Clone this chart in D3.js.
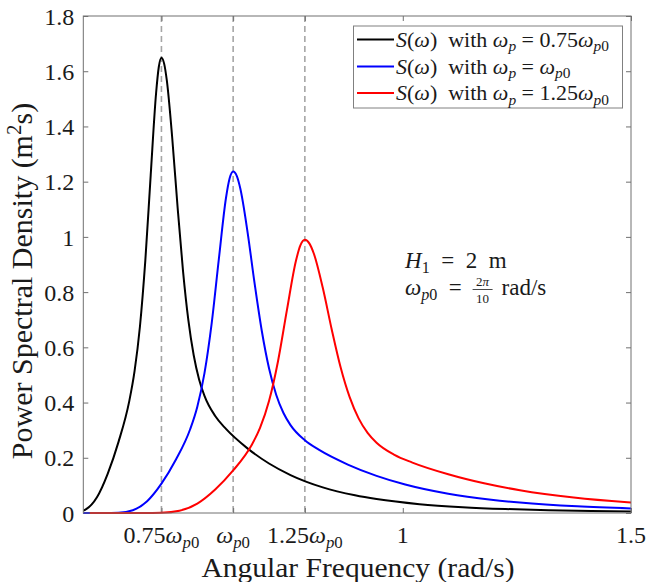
<!DOCTYPE html>
<html>
<head>
<meta charset="utf-8">
<script src="https://cdn.jsdelivr.net/npm/d3@7"></script>
<style>
  body { margin: 0; background: #fff; }
  svg text { font-family: "Liberation Serif", serif; fill: #1a1a1a; white-space: pre; }
</style>
</head>
<body>
<script>
// spectrum, omega in rad/s, S in m^2 s
var blackW = [0.2827, 0.3063, 0.3299, 0.3534, 0.3770, 0.4006, 0.4123, 0.4241, 0.4359, 0.4477, 0.4595, 0.4654, 0.4712,
  0.4771, 0.4830, 0.4948, 0.5066, 0.5184, 0.5301, 0.5419, 0.5537, 0.5655, 0.5890, 0.6126, 0.6597, 0.7069, 0.7540,
  0.8247, 0.8954, 0.9425, 1.0367, 1.1310, 1.2252, 1.3195, 1.4137, 1.5080];
var blackS = [0.0014, 0.0137, 0.0569, 0.1418, 0.2568, 0.4043, 0.5136, 0.6755, 0.9148, 1.2247, 1.5211, 1.6152, 1.6487,
  1.6275, 1.5665, 1.3592, 1.1075, 0.8779, 0.6990, 0.5713, 0.4838, 0.4244, 0.3512, 0.3045, 0.2341, 0.1793, 0.1375,
  0.0929, 0.0641, 0.0505, 0.0320, 0.0211, 0.0143, 0.0099, 0.0071, 0.0051];

var blueW = [0.2513, 0.3142, 0.3456, 0.3770, 0.4084, 0.4398, 0.4712, 0.5027, 0.5341, 0.5498, 0.5655, 0.5812, 0.5969,
  0.6126, 0.6205, 0.6283, 0.6362, 0.6440, 0.6597, 0.6754, 0.6912, 0.7069, 0.7226, 0.7383, 0.7540, 0.7854, 0.8168,
  0.8796, 0.9425, 1.0053, 1.0996, 1.1938, 1.2566, 1.3823, 1.5080];
var blueS = [0, 0, 0, 0.0011, 0.0102, 0.0427, 0.1063, 0.1926, 0.3032, 0.3852, 0.5066, 0.6861, 0.9185,
  1.1408, 1.2113, 1.2365, 1.2206, 1.1749, 1.0194, 0.8306, 0.6584, 0.5243, 0.4284, 0.3629, 0.3183, 0.2634, 0.2284,
  0.1755, 0.1345, 0.1031, 0.0697, 0.0481, 0.0379, 0.0240, 0.0158];

var redW = [0.3142, 0.3927, 0.4320, 0.4712, 0.5105, 0.5498, 0.5890, 0.6283, 0.6676, 0.6872, 0.7069, 0.7265, 0.7461,
  0.7658, 0.7756, 0.7854, 0.7952, 0.8050, 0.8247, 0.8443, 0.8639, 0.8836, 0.9032, 0.9229, 0.9425, 0.9817, 1.0210,
  1.0996, 1.1781, 1.2566, 1.3744, 1.4923, 1.5708];
var redS = [0, 0, 0, 0.0009, 0.0082, 0.0341, 0.0851, 0.1541, 0.2426, 0.3081, 0.4053, 0.5489, 0.7348,
  0.9127, 0.9691, 0.9892, 0.9765, 0.9399, 0.8155, 0.6645, 0.5267, 0.4194, 0.3428, 0.2903, 0.2547, 0.2107, 0.1827,
  0.1404, 0.1076, 0.0825, 0.0558, 0.0385, 0.0303];

var peakW = [0.4712, 0.6283, 0.7854];          // dashed lines: 0.75, 1, 1.25 x wp0
var xTickVals = [0.4712, 0.6283, 0.7854, 1, 1.5];
var xTickText = ["0.75", "", "1.25", "1", "1.5"];
var yTickVals = [0, 0.2, 0.4, 0.6, 0.8, 1, 1.2, 1.4, 1.6, 1.8];
var legendText = ["0.75", "", "1.25"];
var colors = ["#000000", "#0000ff", "#ff0000"];

var W = 647, H = 582;
var FONT = "Liberation Serif";
var svg = d3.select("body").append("svg").attr("width", W).attr("height", H)
  .attr("font-family", FONT);

var x = d3.scaleLinear().domain([0.3, 1.5]).range([83.3, 631]);
var y = d3.scaleLinear().domain([0, 1.8]).range([513, 16]);

// text with italic / subscript pieces
function mathText(sel, parts, size) {
  var cur = 0;
  sel.attr("font-family", FONT);
  parts.forEach(function(p) {
    var s = p[0], st = p[1];
    var lvl = (st == "si" || st == "sr") ? size * 0.22 : (st == "up" ? -size * 0.38 : 0);
    var t = sel.append("tspan").text(s).attr("dy", lvl - cur);
    cur = lvl;
    if (st == "i" || st == "si") t.attr("font-style", "italic");
    if (st != "i" && st != "r") t.attr("font-size", size * 0.7);
  });
  if (cur != 0) sel.append("tspan").text("").attr("dy", -cur);
  return sel;
}
function wp0(pre) {
  var p = [];
  if (pre) p.push([pre, "r"]);
  p.push(["ω", "i"], ["p", "si"], ["0", "sr"]);
  return p;
}

svg.append("defs").append("clipPath").attr("id", "plot")
  .append("rect").attr("x", 83.3).attr("y", 10).attr("width", 631 - 83.3).attr("height", 506);

// dashed peak markers
svg.append("g").selectAll("line").data(peakW).enter().append("line")
  .attr("x1", function(d) { return x(d); }).attr("x2", function(d) { return x(d); })
  .attr("y1", y(1.8)).attr("y2", y(0))
  .attr("stroke", "#a6a6a6").attr("stroke-width", 1.6).attr("stroke-dasharray", "6,4");

// axes (ticks inward on all four sides)
function styleAxis(g) {
  g.attr("font-family", FONT).attr("font-size", 24);
  g.select(".domain").remove();
  g.selectAll(".tick line").attr("stroke", "#707070");
  g.selectAll(".tick text").attr("fill", "#1a1a1a");
}
svg.append("g").attr("transform", "translate(83.3,0)")
  .call(d3.axisLeft(y).tickValues(yTickVals).tickSizeInner(-5).tickSizeOuter(0).tickPadding(9).tickFormat(d3.format("")))
  .call(styleAxis)
  .selectAll(".tick text").attr("dy", "0.34em");
svg.append("g").attr("transform", "translate(631,0)")
  .call(d3.axisRight(y).tickValues(yTickVals).tickSizeInner(-5).tickSizeOuter(0).tickFormat(""))
  .call(styleAxis);
svg.append("g").attr("transform", "translate(0,513)")
  .call(d3.axisBottom(x).tickValues(xTickVals).tickSizeInner(-5).tickSizeOuter(0).tickFormat(""))
  .call(styleAxis);
svg.append("g").attr("transform", "translate(0,16)")
  .call(d3.axisTop(x).tickValues(xTickVals).tickSizeInner(-5).tickSizeOuter(0).tickFormat(""))
  .call(styleAxis);

// x tick labels
xTickVals.forEach(function(v, i) {
  var t = svg.append("text").attr("x", x(v)).attr("y", 543).attr("text-anchor", "middle")
    .attr("font-family", FONT).attr("font-size", 24);
  if (i < 3) mathText(t, wp0(xTickText[i]), 24);
  else t.text(xTickText[i]);
});

// curves
var line = d3.line().x(function(d) { return x(d[0]); }).y(function(d) { return y(d[1]); }).curve(d3.curveMonotoneX);
var series = [d3.zip(blackW, blackS), d3.zip(blueW, blueS), d3.zip(redW, redS)];
svg.append("g").attr("clip-path", "url(#plot)").selectAll("path").data(series).enter().append("path")
  .attr("d", line).attr("fill", "none")
  .attr("stroke", function(d, i) { return colors[i]; }).attr("stroke-width", 2);

// frame
svg.append("rect").attr("x", 83.3).attr("y", 16).attr("width", 631 - 83.3).attr("height", 513 - 16)
  .attr("fill", "none").attr("stroke", "#707070").attr("stroke-width", 1);

// axis titles
svg.append("text").attr("x", 358).attr("y", 577).attr("text-anchor", "middle")
  .attr("font-family", FONT).attr("font-size", 27)
  .attr("textLength", 313).attr("lengthAdjust", "spacingAndGlyphs")
  .text("Angular Frequency (rad/s)");
var yl = svg.append("text").attr("transform", "translate(32,281) rotate(-90)").attr("text-anchor", "middle").attr("font-size", 30);
mathText(yl, [["Power Spectral Density (m", "r"], ["2", "up"], ["s)", "r"]], 30);

// legend
var lg = svg.append("g");
lg.append("rect").attr("x", 353.5).attr("y", 26).attr("width", 269).attr("height", 82)
  .attr("fill", "#fff").attr("stroke", "#808080").attr("stroke-width", 1);
[39.5, 66.5, 93].forEach(function(ly, i) {
  lg.append("line").attr("x1", 357).attr("x2", 394).attr("y1", ly).attr("y2", ly)
    .attr("stroke", colors[i]).attr("stroke-width", 2);
  var t = lg.append("text").attr("x", 396).attr("y", ly + 7).attr("font-size", 22);
  var parts = [["S", "i"], ["(", "r"], ["ω", "i"], [")", "r"], ["  with ", "r"], ["ω", "i"], ["p", "si"], [" = ", "r"]];
  mathText(t, parts.concat(wp0(legendText[i])), 22);
});

// annotation
var a1 = svg.append("text").attr("x", 405).attr("y", 268).attr("font-size", 23);
mathText(a1, [["H", "i"], ["1", "sr"], ["  =  2  m", "r"]], 23);
var a2 = svg.append("text").attr("x", 405).attr("y", 295).attr("font-size", 23);
mathText(a2, wp0("").concat([["  = ", "r"]]), 23);
var fx = 405 + a2.node().getComputedTextLength() + 4;
svg.append("text").attr("x", fx + 11).attr("y", 286).attr("text-anchor", "middle").attr("font-size", 13)
  .call(function(t) { mathText(t, [["2", "r"], ["π", "i"]], 13); });
svg.append("line").attr("x1", fx + 1).attr("x2", fx + 21).attr("y1", 289.5).attr("y2", 289.5)
  .attr("stroke", "#1a1a1a").attr("stroke-width", 0.8);
svg.append("text").attr("x", fx + 11).attr("y", 303).attr("text-anchor", "middle").attr("font-size", 13).text("10");
svg.append("text").attr("x", fx + 30).attr("y", 295).attr("font-size", 23).text("rad/s");
</script>
</body>
</html>
